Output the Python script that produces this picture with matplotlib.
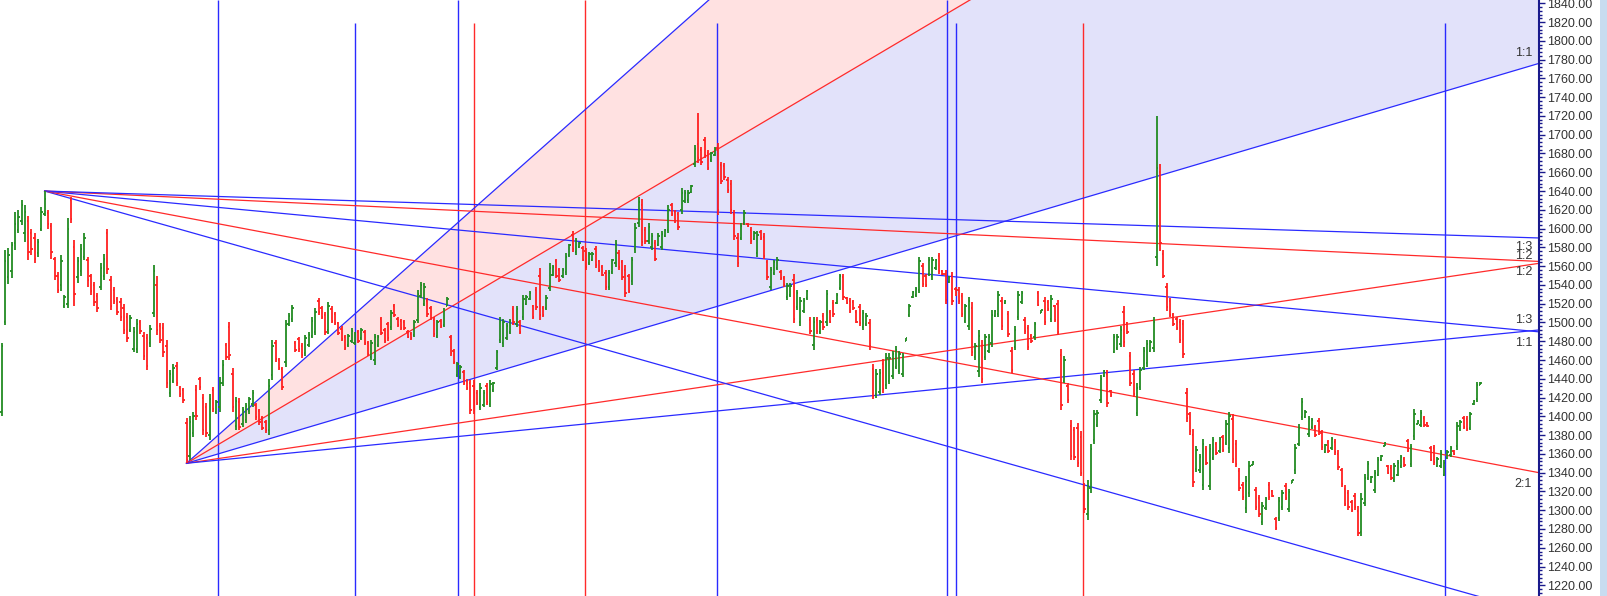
import matplotlib
matplotlib.use("Agg")
import matplotlib.pyplot as plt
import numpy as np
from matplotlib.collections import LineCollection
from matplotlib.ticker import MultipleLocator, FormatStrFormatter
from matplotlib.patches import Rectangle
import matplotlib.transforms as mtransforms

# daily bars (open, high, low, close)
op = [1405,1500,1548,1555,1585,1598,1608,1595,1608,
      1595,1590,1574,1600,1616,1617,1603,1568,1550,
      1540,1517,1520,1630,1580,1548,1555,
      1570,1566,1549,1540,1528,1538,1550,1595,
      1545,1535,1525,1522,1515,1506,1492,1472,1472,
      1500,1486,1483,1478,1510,1540,1496,1494,1475,
      1425,1438,1454,1430,1428,1393,1358,1382,1428,
      1440,1420,1410,1380,1428,1405,1410,1436,1476,1495,
      1445,1390,1415,1392,1396,1406,1413,1412,1406,
      1398,1394,1385,1444,1478,1460,1450,1458,1498,1504,
      1478,1482,1475,1467,1476,1486,1490,1523,1515,1508,
      1492,1514,1509,1499,1493,1485,1476,1480,1478,1490,
      1483,1490,1478,1463,1460,1476,1504,1492,1498,1495,
      1518,1504,1502,1501,1490,1488,1487,1503,1528,
      1520,1523,1515,1503,1486,1502,1497,1518,1484,
      1470,1444,1442,1447,1438,1435,1432,1425,1410,1412,
      1432,1413,1428,1452,1481,1478,1483,1490,1514,1498,
      1501,1506,1520,1525,1517,1535,1550,1515,1515,1537,
      1551,1565,1556,1549,1554,1572,1593,1575,1580,1579,
      1576,1563,1566,1578,1565,1559,1553,1538,1554,1563,
      1574,1564,1556,1549,1544,1578,1606,1625,1599,1587,
      1580,1585,1583,1580,1592,1599,1625,1618,1615,1620,
      1629,1630,1639,1669,1690,1684,1694,1680,1673,1678,
      1686,1668,1667,1652,1648,1615,1590,1590,1606,1605,
      1599,1589,1574,1596,1591,1564,1538,1553,1558,1554,
      1547,1527,1529,1545,1516,1500,1512,1526,1503,1476,
      1503,1490,1507,1500,1511,1521,1521,1537,1548,1526,
      1523,1522,1511,1516,1495,1498,1499,1450,1424,1426,
      1456,1433,1438,1443,1453,1448,1445,1480,1508,1527,
      1529,1535,1560,1550,1552,1549,1558,1571,1555,1552,
      1543,1550,1536,1535,1528,1502,1496,1515,1463,1448,
      1475,1463,1470,1478,1507,1509,1523,1521,1509,1470,
      1474,1506,1522,1503,1494,1486,1484,1531,1510,1523,
      1522,1504,1517,1520,1465,1438,1432,1390,1385,1388,
      1378,1325,1296,1324,1375,1391,1417,1443,1445,1427,
      1469,1473,1477,1511,1499,1464,1445,1404,1431,1452,
      1457,1470,1473,1570,1660,1573,1538,1523,1508,1504,
      1500,1498,1425,1402,1380,1344,1343,1327,1365,1326,1356,1371,
      1363,1378,1372,1366,1397,1371,1342,1327,1302,1318,1348,
      1322,1313,1287,1302,1327,1320,1291,1292,1303,1326,
      1301,1329,1343,1371,1399,1399,1381,1389,1389,1395,
      1382,1362,1373,1366,1373,1360,1343,1323,1318,1309,1315,
      1299,1277,1308,1334,1330,1321,1338,1353,1368,1347,
      1345,1332,1338,1347,1355,1374,1349,1379,1392,1391,
      1398,1393,1366,1366,1347,1347,1338,1356,1359,1363,
      1368,1386,1398,1397,1388,1413,1418,1433]
hi = [1478,1577,1579,1586,1618,1620,1630,1625,1613,
      1600,1595,1589,1623,1640,1620,1606,1570,1554,
      1572,1529,1611,1634,1588,1570,1584,
      1595,1570,1552,1543,1531,1563,1573,1600,
      1549,1538,1527,1526,1520,1510,1508,1495,1504,
      1503,1490,1488,1497,1561,1549,1499,1499,1481,
      1449,1456,1458,1432,1430,1398,1400,1405,1433,
      1442,1424,1414,1424,1431,1417,1442,1460,1478,1501,
      1451,1421,1419,1410,1414,1421,1428,1414,1408,
      1400,1396,1440,1481,1481,1462,1453,1503,1510,1519,
      1480,1485,1478,1487,1490,1506,1515,1526,1517,1511,
      1522,1517,1511,1501,1496,1487,1488,1494,1490,1492,
      1494,1492,1480,1481,1488,1487,1506,1494,1501,1513,
      1520,1506,1504,1503,1492,1490,1503,1535,1543,
      1542,1526,1517,1506,1503,1504,1515,1527,1487,
      1472,1458,1455,1449,1440,1439,1439,1428,1435,1428,
      1435,1439,1437,1471,1506,1504,1499,1504,1517,1517,
      1503,1529,1529,1533,1519,1538,1558,1517,1529,1563,
      1561,1568,1558,1558,1574,1584,1597,1590,1586,1581,
      1579,1575,1575,1581,1567,1561,1556,1556,1568,1588,
      1577,1567,1561,1552,1570,1606,1634,1632,1602,1606,
      1595,1588,1595,1597,1600,1625,1627,1620,1618,1643,
      1641,1641,1646,1689,1723,1687,1698,1684,1682,1687,
      1691,1671,1670,1655,1652,1620,1595,1606,1620,1606,
      1602,1597,1597,1598,1595,1567,1559,1567,1570,1556,
      1549,1542,1542,1552,1535,1527,1526,1535,1506,1506,
      1506,1503,1510,1535,1513,1524,1531,1552,1552,1527,
      1526,1524,1513,1520,1513,1510,1504,1456,1450,1450,
      1461,1467,1467,1470,1475,1470,1467,1483,1520,1533,
      1538,1570,1563,1552,1570,1570,1568,1574,1556,1556,
      1549,1554,1538,1538,1531,1520,1527,1522,1478,1492,
      1481,1488,1488,1513,1513,1533,1527,1524,1512,1474,
      1496,1533,1533,1506,1497,1488,1501,1533,1513,1527,
      1524,1529,1519,1524,1472,1464,1435,1396,1389,1393,
      1384,1329,1332,1371,1407,1407,1444,1449,1449,1428,
      1488,1488,1496,1517,1501,1469,1449,1435,1453,1474,
      1481,1481,1506,1720,1669,1577,1542,1526,1510,1506,
      1504,1503,1430,1405,1387,1368,1360,1376,1368,1371,1378,1373,
      1378,1380,1396,1405,1403,1375,1345,1330,1336,1352,1352,
      1325,1316,1309,1314,1330,1321,1293,1314,1321,1329,
      1323,1332,1371,1392,1419,1407,1400,1398,1391,1398,
      1385,1371,1375,1378,1376,1364,1345,1327,1321,1311,1318,
      1304,1318,1339,1352,1336,1343,1357,1359,1373,1348,
      1348,1350,1353,1359,1357,1376,1371,1408,1396,1407,
      1400,1394,1368,1369,1357,1364,1353,1364,1368,1364,
      1394,1396,1400,1400,1405,1417,1437,1437]
lo = [1400,1497,1541,1547,1577,1595,1604,1586,1566,
      1572,1563,1570,1597,1613,1600,1568,1545,1531,
      1534,1515,1515,1606,1518,1542,1549,
      1566,1538,1529,1518,1511,1535,1545,1552,
      1513,1520,1508,1502,1488,1479,1490,1469,1467,
      1488,1460,1449,1474,1506,1487,1478,1463,1430,
      1421,1435,1432,1421,1414,1350,1353,1378,1396,
      1428,1380,1378,1375,1405,1403,1405,1432,1460,1460,
      1405,1385,1385,1389,1393,1403,1410,1396,1391,
      1385,1382,1380,1439,1458,1449,1428,1453,1496,1501,
      1469,1469,1462,1464,1474,1483,1487,1508,1504,1487,
      1488,1499,1497,1487,1480,1471,1474,1478,1476,1478,
      1481,1476,1464,1460,1455,1474,1487,1478,1480,1492,
      1506,1495,1492,1492,1483,1481,1485,1499,1526,
      1517,1506,1503,1485,1483,1494,1495,1517,1464,
      1456,1442,1440,1433,1428,1403,1403,1412,1407,1410,
      1412,1410,1426,1449,1478,1474,1481,1488,1497,1495,
      1488,1503,1519,1524,1504,1513,1503,1506,1513,1533,
      1549,1547,1543,1547,1551,1570,1575,1572,1579,1565,
      1556,1561,1565,1558,1554,1549,1535,1535,1552,1559,
      1556,1545,1527,1531,1540,1574,1602,1581,1584,1584,
      1577,1565,1581,1577,1591,1595,1613,1606,1599,1616,
      1627,1627,1638,1666,1670,1668,1675,1662,1671,1677,
      1614,1648,1652,1638,1616,1588,1559,1588,1604,1602,
      1584,1588,1570,1588,1568,1545,1535,1551,1556,1545,
      1538,1524,1527,1499,1513,1496,1510,1524,1488,1471,
      1488,1488,1492,1496,1499,1506,1520,1535,1524,1520,
      1510,1513,1499,1496,1492,1496,1471,1418,1420,1423,
      1425,1429,1434,1440,1450,1445,1442,1480,1506,1526,
      1527,1531,1538,1538,1549,1545,1556,1552,1551,1520,
      1542,1519,1528,1520,1506,1499,1492,1464,1460,1442,
      1435,1460,1467,1474,1506,1506,1492,1520,1485,1446,
      1471,1503,1520,1488,1471,1478,1481,1517,1510,1497,
      1512,1501,1501,1487,1407,1435,1414,1353,1353,1346,
      1336,1297,1290,1318,1371,1389,1414,1442,1410,1421,
      1467,1471,1474,1474,1488,1432,1421,1400,1428,1449,
      1453,1469,1469,1560,1576,1547,1512,1506,1496,1492,
      1478,1462,1394,1380,1325,1341,1340,1321,1348,1321,1353,1359,
      1361,1362,1369,1361,1350,1346,1320,1311,1297,1314,1348,
      1300,1293,1284,1300,1311,1314,1279,1289,1300,1311,
      1298,1329,1339,1368,1396,1398,1378,1387,1378,1380,
      1364,1361,1361,1364,1359,1343,1325,1304,1300,1298,1300,
      1272,1272,1304,1332,1329,1318,1336,1352,1368,1339,
      1332,1330,1336,1345,1346,1362,1346,1375,1392,1389,
      1389,1389,1352,1348,1346,1345,1336,1355,1357,1359,
      1364,1384,1387,1384,1385,1412,1415,1433]
cl = [1475,1565,1572,1582,1605,1612,1625,1618,1575,
      1578,1568,1586,1618,1632,1605,1575,1550,1535,
      1565,1527,1600,1610,1530,1565,1578,
      1590,1545,1533,1522,1515,1558,1568,1557,
      1518,1523,1511,1506,1492,1483,1505,1490,1498,
      1491,1464,1454,1493,1555,1492,1481,1468,1436,
      1445,1452,1436,1424,1417,1354,1394,1400,1400,
      1431,1385,1382,1418,1408,1415,1436,1455,1463,1465,
      1410,1416,1389,1407,1411,1418,1425,1399,1394,
      1388,1385,1432,1475,1461,1451,1431,1497,1507,1515,
      1471,1472,1465,1483,1487,1502,1511,1511,1506,1490,
      1517,1502,1499,1489,1482,1473,1486,1491,1488,1480,
      1492,1478,1466,1478,1484,1485,1489,1480,1483,1510,
      1508,1497,1494,1494,1485,1483,1500,1530,1540,
      1538,1509,1505,1488,1500,1496,1512,1525,1467,
      1458,1456,1453,1435,1430,1407,1408,1414,1430,1425,
      1415,1434,1435,1468,1502,1500,1496,1502,1500,1514,
      1490,1525,1527,1531,1506,1516,1508,1508,1526,1558,
      1559,1550,1545,1556,1570,1582,1578,1587,1585,1567,
      1559,1573,1573,1561,1556,1551,1538,1553,1566,1584,
      1559,1548,1531,1534,1566,1601,1628,1586,1587,1602,
      1592,1568,1592,1594,1598,1620,1615,1608,1602,1638,
      1638,1638,1645,1685,1675,1671,1678,1665,1680,1685,
      1620,1651,1655,1641,1620,1592,1563,1603,1617,1603,
      1587,1595,1593,1590,1571,1548,1556,1564,1567,1547,
      1540,1539,1539,1504,1531,1523,1523,1533,1491,1500,
      1491,1500,1495,1530,1501,1509,1529,1549,1527,1521,
      1512,1515,1501,1499,1510,1507,1475,1422,1445,1446,
      1429,1462,1462,1466,1471,1466,1464,1483,1518,1532,
      1536,1565,1541,1540,1567,1566,1566,1555,1552,1524,
      1548,1523,1530,1523,1509,1517,1523,1469,1475,1486,
      1440,1484,1485,1508,1512,1529,1496,1523,1488,1449,
      1492,1529,1531,1491,1474,1480,1498,1519,1513,1500,
      1514,1525,1503,1490,1412,1460,1417,1358,1357,1350,
      1340,1301,1326,1365,1402,1404,1440,1448,1414,1423,
      1485,1485,1492,1479,1490,1436,1424,1430,1449,1470,
      1477,1479,1501,1665,1585,1550,1516,1508,1498,1494,
      1481,1466,1398,1384,1330,1364,1357,1370,1350,1365,1375,1361,
      1376,1364,1392,1400,1355,1349,1324,1314,1331,1347,1351,
      1303,1296,1305,1312,1314,1315,1281,1310,1318,1313,
      1319,1332,1366,1388,1415,1405,1397,1396,1380,1383,
      1367,1369,1363,1376,1362,1346,1328,1307,1303,1300,1303,
      1276,1312,1334,1349,1335,1340,1354,1358,1372,1340,
      1334,1347,1350,1357,1348,1364,1367,1403,1395,1404,
      1391,1390,1354,1351,1355,1361,1350,1362,1366,1360,
      1390,1394,1389,1387,1402,1416,1433,1436]

# time lines (bar index)
blue_full = [65.6, 138.3, 286.5]
blue_part = [106.9, 216.6, 289.0, 437.4]
red_full = [176.8]
red_part = [143.0, 327.5]

# gann fans: pivot (bar, price), base slope (price per bar)
low_pivot = (56, 1350.0)
high_pivot = (13, 1640.0)
up_base = 1.0395
down_base = -0.3313
fan_ratio = [3, 2, 1, 0.5, 1 / 3]
fan_colors = ["#2a2aff", "#ff2a2a", "#2a2aff", "#ff2a2a", "#2a2aff"]

fan_labels = ["1:1", "1:3", "1:2", "1:2", "1:3", "1:1", "2:1"]
fan_label_y = [1787, 1580.4, 1570.8, 1553.7, 1502.6, 1478.4, 1327.6]
# labels of the steep lines, mostly cut off by the top edge
top_labels = ["3:1", "2:1"]
top_label_x = [223.7, 306.0]

BLUE = "#2a2aff"
RED = "#ff2a2a"
GREEN = "#228b22"
BARRED = "#ff2020"

fig = plt.figure(figsize=(16.07, 5.96), dpi=100)
ax = fig.add_axes([0, 0, 1539 / 1607, 1])
ymin, ymax = 1208.6, 1843.5
xmin, xmax = -0.52, 465.8
ax.set_xlim(xmin, xmax)
ax.set_ylim(ymin, ymax)

# shaded zones of the low fan
xx = np.array([low_pivot[0], xmax + 5])
dx = xx - low_pivot[0]
ax.fill_between(xx, low_pivot[1] + 3 * up_base * dx, low_pivot[1] + 2 * up_base * dx,
                color="#ffe1e1", lw=0, zorder=0)
ax.fill_between(xx, low_pivot[1] + 2 * up_base * dx, low_pivot[1] + 1 * up_base * dx,
                color="#e2e2fa", lw=0, zorder=0)

# vertical time lines
top_part = 1818.5
ax.vlines(blue_full, ymin, ymax, color=BLUE, lw=1.0, zorder=1)
ax.vlines(blue_part, ymin, top_part, color=BLUE, lw=1.0, zorder=1)
ax.vlines(red_full, ymin, ymax, color=RED, lw=1.0, zorder=1)
ax.vlines(red_part, ymin, top_part, color=RED, lw=1.0, zorder=1)

# fan lines
for piv, base in [(low_pivot, up_base), (high_pivot, down_base)]:
    xs = np.array([piv[0], xmax + 5])
    for r, c in zip(fan_ratio, fan_colors):
        ax.plot(xs, piv[1] + r * base * (xs - piv[0]), color=c, lw=0.9, zorder=2)

# OHLC bars
n = len(cl)
w = 0.42
segs, cols = [], []
for i in range(n):
    c = GREEN if cl[i] >= op[i] else BARRED
    segs += [[(i, lo[i]), (i, hi[i])], [(i - w, op[i]), (i, op[i])], [(i, cl[i]), (i + w, cl[i])]]
    cols += [c, c, c]
ax.add_collection(LineCollection(segs, colors=cols, linewidths=1.3, zorder=3))

# fan labels at right edge
trans = mtransforms.blended_transform_factory(ax.transAxes, ax.transData)
for t, y in zip(fan_labels, fan_label_y):
    ax.text(0.9955, y, t, transform=trans, ha="right", va="center",
            fontsize=9, color="#333333", family="Liberation Sans", zorder=4)
for t, x in zip(top_labels, top_label_x):
    ax.text(x, ymax + 4, t, ha="center", va="center", fontsize=9, color="#888888",
            family="Liberation Sans", clip_on=True, zorder=4)

# price axis on the right
ax.yaxis.tick_right()
ax.set_yticks(np.arange(1220, 1841, 20))
ax.yaxis.set_major_formatter(FormatStrFormatter("%.2f"))
ax.yaxis.set_minor_locator(MultipleLocator(4))
ax.tick_params(axis="y", which="major", length=4, width=1, color="#1a1a8c",
               labelsize=9, labelcolor="#333333", pad=2)
ax.tick_params(axis="y", which="minor", length=2, width=1, color="#1a1a8c")
for lab in ax.get_yticklabels():
    lab.set_family("Liberation Sans")
ax.set_xticks([])
for s in ["top", "left", "bottom"]:
    ax.spines[s].set_visible(False)
ax.spines["right"].set_color("#1a1a8c")
ax.spines["right"].set_linewidth(1.5)

fig.add_artist(Rectangle((1600 / 1607, 0), 7 / 1607, 1, transform=fig.transFigure,
                         color="#c8dcf0", lw=0))

fig.savefig("out.png", dpi=100)
